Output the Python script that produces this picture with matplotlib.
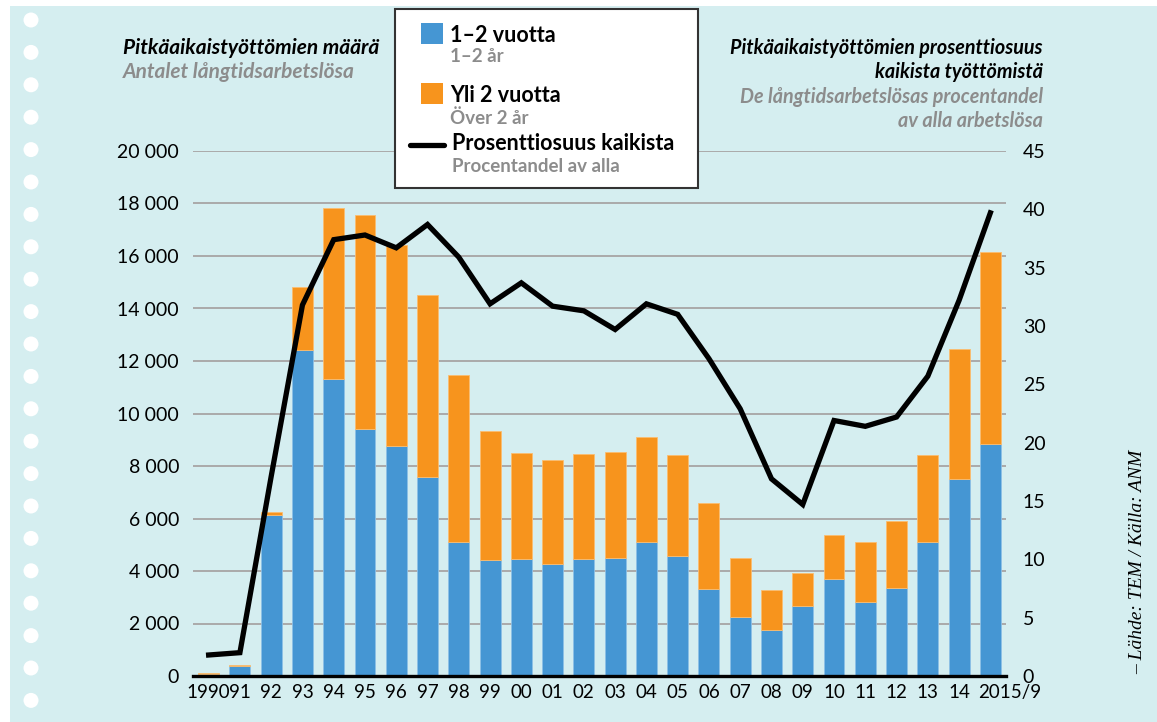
import matplotlib
matplotlib.use('Agg')
import matplotlib.pyplot as plt
from matplotlib.patches import Rectangle, Circle
from matplotlib.lines import Line2D
from matplotlib.ticker import FuncFormatter
from matplotlib.transforms import ScaledTranslation

plt.rcParams['font.family'] = ['Lato', 'DejaVu Sans']

# Data
years = ['1990', '91', '92', '93', '94', '95', '96', '97', '98', '99', '00', '01', '02',
         '03', '04', '05', '06', '07', '08', '09', '10', '11', '12', '13', '14', '2015/9']
one_two_years = [80, 400, 6130, 12420, 11300, 9400, 8750, 7580, 5120, 4410, 4460, 4250, 4460,
                 4510, 5120, 4580, 3330, 2250, 1770, 2670, 3700, 2830, 3370, 5100, 7500, 8850]
total = [100, 430, 6250, 14820, 17840, 17560, 16400, 14530, 11460, 9340, 8500, 8240, 8470,
         8540, 9120, 8430, 6590, 4480, 3290, 3940, 5370, 5090, 5900, 8430, 12440, 16150]
over_two_years = [t - b for t, b in zip(total, one_two_years)]
percent = [1.8, 2.0, 17.1, 31.8, 37.4, 37.8, 36.7, 38.7, 35.9, 31.9, 33.7, 31.7, 31.3,
           29.7, 31.9, 31.0, 27.2, 22.9, 16.9, 14.7, 21.9, 21.4, 22.2, 25.7, 32.2, 39.7]

BG = '#d5eef0'
BLUE = '#4596d3'
ORANGE = '#f7941d'
GRAY = '#8c8c8c'

W, H = 1157, 722
fig = plt.figure(figsize=(W / 100, H / 100), dpi=100, facecolor=BG)


def fx(px):
    return px / W


def fy(py):
    return 1 - py / H


# white paper edges and punched holes
fig.patches.append(Rectangle((0, fy(6)), 1, 6 / H, transform=fig.transFigure,
                             facecolor='white', edgecolor='none', zorder=0))
fig.patches.append(Rectangle((0, 0), fx(10), 1, transform=fig.transFigure,
                             facecolor='white', edgecolor='none', zorder=0))
for k in range(22):
    yy = 20 + 32.4 * k
    fig.patches.append(Circle((0.31, (H - yy) / 100), 0.075, transform=fig.dpi_scale_trans,
                              facecolor='white', edgecolor='none', zorder=0))

ax = fig.add_axes([fx(193), fy(676), fx(1006) - fx(193), (676 - 151) / H])
ax.set_facecolor('none')
x = list(range(len(years)))
ax.bar(x, one_two_years, width=0.67, color=BLUE, edgecolor='#8cc0e6', linewidth=0.6, zorder=2)
ax.bar(x, over_two_years, width=0.67, bottom=one_two_years, color=ORANGE,
       edgecolor='#fbbd70', linewidth=0.6, zorder=2)

ax.set_xlim(-0.5, len(years) - 0.5)
ax.set_ylim(0, 20000)
ax.set_yticks(range(0, 20001, 2000))
ax.yaxis.set_major_formatter(FuncFormatter(lambda v, p: f'{v:,.0f}'.replace(',', ' ')))
ax.grid(axis='y', color='#aaaaaa', linewidth=1.4, zorder=0)
ax.set_axisbelow(True)
for s in ['top', 'right', 'left']:
    ax.spines[s].set_visible(False)
ax.spines['bottom'].set_color('black')
ax.spines['bottom'].set_linewidth(2.4)
ax.spines['bottom'].set_zorder(3)
ax.set_xticks(x)
ax.set_xticklabels(years)
ax.tick_params(axis='both', length=0, labelsize=14, colors='black')
ax.tick_params(axis='x', labelsize=13.5, pad=6)
ax.tick_params(axis='y', pad=10)
last = ax.get_xticklabels()[-1]
last.set_transform(last.get_transform() + ScaledTranslation(0.19, 0, fig.dpi_scale_trans))

ax2 = ax.twinx()
ax2.plot(x, percent, color='black', linewidth=3.8, solid_joinstyle='miter', zorder=4)
ax2.set_ylim(0, 45)
ax2.set_yticks(range(0, 46, 5))
for s in ax2.spines.values():
    s.set_visible(False)
ax2.tick_params(axis='y', length=0, labelsize=14, pad=12)

# titles
fig.text(fx(123), fy(48), 'Pitkäaikaistyöttömien määrä', fontsize=15, fontweight='bold',
         fontstyle='italic', va='center', ha='left')
fig.text(fx(123), fy(72), 'Antalet långtidsarbetslösa', fontsize=15, fontweight='bold',
         fontstyle='italic', color=GRAY, va='center', ha='left')
fig.text(fx(1043), fy(48), 'Pitkäaikaistyöttömien prosenttiosuus', fontsize=14.2,
         fontweight='bold', fontstyle='italic', va='center', ha='right')
fig.text(fx(1043), fy(72), 'kaikista työttömistä', fontsize=14.2,
         fontweight='bold', fontstyle='italic', va='center', ha='right')
fig.text(fx(1043), fy(97), 'De långtidsarbetslösas procentandel', fontsize=14.2,
         fontweight='bold', fontstyle='italic', color=GRAY, va='center', ha='right')
fig.text(fx(1043), fy(121), 'av alla arbetslösa', fontsize=14.2,
         fontweight='bold', fontstyle='italic', color=GRAY, va='center', ha='right')

# source
fig.text(fx(1138), fy(562), '– Lähde: TEM / Källa: ANM', rotation=90, fontsize=14,
         fontstyle='italic', family=['Liberation Serif', 'DejaVu Serif'],
         va='center', ha='center')

# legend box
fig.patches.append(Rectangle((fx(395), fy(188)), fx(698) - fx(395), (188 - 9) / H,
                             transform=fig.transFigure, facecolor='white',
                             edgecolor='#333333', linewidth=1.5, zorder=5))
fig.patches.append(Rectangle((fx(421), fy(44)), fx(443) - fx(421), 21 / H,
                             transform=fig.transFigure, facecolor=BLUE,
                             edgecolor='none', zorder=6))
fig.patches.append(Rectangle((fx(421), fy(104)), fx(443) - fx(421), 21 / H,
                             transform=fig.transFigure, facecolor=ORANGE,
                             edgecolor='none', zorder=6))
fig.lines.append(Line2D([fx(410), fx(444)], [fy(145), fy(145)], transform=fig.transFigure,
                        color='black', linewidth=3.8, solid_capstyle='round', zorder=6))
leg_items = [
    (450, 35, '1–2 vuotta', 'black', 15.5),
    (450, 57, '1–2 år', GRAY, 13.5),
    (450, 95, 'Yli 2 vuotta', 'black', 15.5),
    (450, 118, 'Över 2 år', GRAY, 13.5),
    (452, 144, 'Prosenttiosuus kaikista', 'black', 15.5),
    (452, 167, 'Procentandel av alla', GRAY, 13.5),
]
for lx, ly, txt, col, size in leg_items:
    fig.text(fx(lx), fy(ly), txt, fontsize=size, fontweight='bold', color=col,
             va='center', ha='left', zorder=7)

fig.savefig('out.png', dpi=100, facecolor=BG)
